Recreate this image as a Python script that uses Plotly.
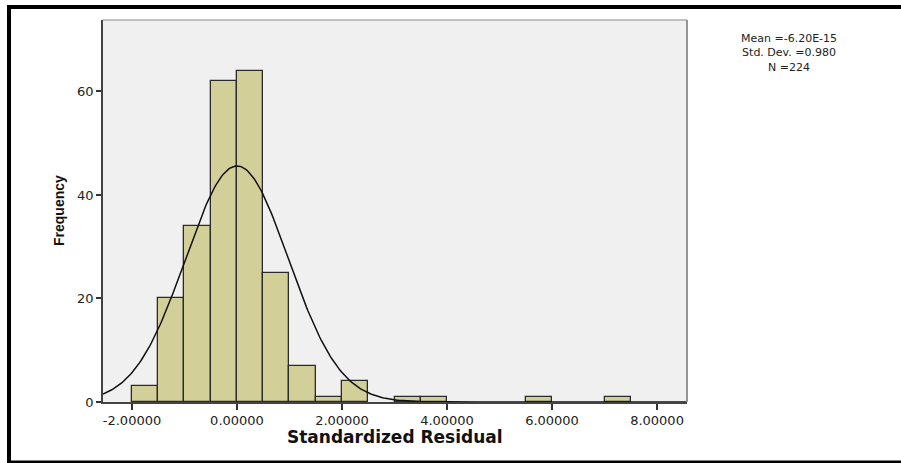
import numpy as np
import plotly.graph_objects as go

# ---- data ----
bin_left = [-2.0, -1.5, -1.0, -0.5, 0.0, 0.5, 1.0, 1.5, 2.0, 3.0, 3.5, 5.5, 7.0]
counts = [3, 20, 34, 62, 64, 25, 7, 1, 4, 1, 1, 1, 1]
bin_width = 0.5
x_tick_vals = [-2, 0, 2, 4, 6, 8]
x_tick_text = ["-2.00000", "0.00000", "2.00000", "4.00000", "6.00000", "8.00000"]
y_tick_vals = [0, 20, 40, 60]
stat_mean = -6.20e-15
stat_sd = 0.980
stat_n = 224
stats_lines = ["Mean =-6.20E-15", "Std. Dev. =0.980", "N =224"]

W, H = 901, 463
# plot area in page pixels
L, R, T, B = 103, 687, 20, 402
xr = [-2.552, 8.571]
yr = [0, 73.8]

centers = [b + bin_width / 2 for b in bin_left]

fig = go.Figure()
fig.add_trace(go.Bar(
    x=centers, y=counts, width=[bin_width] * len(counts),
    marker=dict(color="#D3CF98", line=dict(color="#2b2b2b", width=1.3)),
    hoverinfo="skip", showlegend=False,
))
xs = np.linspace(xr[0], xr[1], 400)
ys = stat_n * bin_width / (stat_sd * np.sqrt(2 * np.pi)) * np.exp(-0.5 * ((xs - stat_mean) / stat_sd) ** 2)
fig.add_trace(go.Scatter(x=xs, y=ys, mode="lines", line=dict(color="#111111", width=1.5),
                         hoverinfo="skip", showlegend=False))


def px_x(p):
    return (p - L) / (R - L)


def px_y(p):
    return (B - p) / (B - T)


tickfont = dict(family="DejaVu Sans, Liberation Sans, Arial", size=13, color="#222222")

fig.update_layout(
    width=W, height=H,
    margin=dict(l=L, r=W - R, t=T, b=H - B, pad=0),
    paper_bgcolor="white", plot_bgcolor="#F0F0F0",
    bargap=0,
    xaxis=dict(range=xr, tickvals=x_tick_vals, ticktext=x_tick_text, ticks="outside",
               ticklen=6, tickwidth=1.5, tickcolor="#333333", showgrid=False, zeroline=False,
               showline=True, linecolor="#444444", linewidth=1.5, tickfont=tickfont),
    yaxis=dict(range=yr, tickvals=y_tick_vals, ticks="outside", ticklen=5, tickwidth=1.5,
               tickcolor="#333333", showgrid=False, zeroline=False, showline=True,
               linecolor="#444444", linewidth=1.8, tickfont=tickfont),
    shapes=[
        dict(type="line", xref="paper", yref="paper", x0=0, x1=1, y0=1, y1=1,
             line=dict(color="#8a8a8a", width=1.2), layer="above"),
        dict(type="line", xref="paper", yref="paper", x0=1, x1=1, y0=0, y1=1,
             line=dict(color="#8a8a8a", width=1.8), layer="above"),
        # outer black border (cropped on the right)
        dict(type="line", xref="paper", yref="paper", x0=px_x(7), x1=px_x(901),
             y0=px_y(7), y1=px_y(7), line=dict(color="black", width=4)),
        dict(type="line", xref="paper", yref="paper", x0=px_x(9), x1=px_x(9),
             y0=px_y(5), y1=px_y(463), line=dict(color="black", width=4)),
        dict(type="line", xref="paper", yref="paper", x0=px_x(7), x1=px_x(901),
             y0=px_y(462), y1=px_y(462), line=dict(color="black", width=3)),
    ],
)

annotations = [
    dict(text="<b>Standardized Residual</b>", x=px_x(395), y=px_y(437), xref="paper", yref="paper",
         showarrow=False, xanchor="center", yanchor="middle",
         font=dict(family="DejaVu Sans, Liberation Sans", size=17, color="#111111")),
    dict(text="<b>Frequency</b>", x=px_x(59), y=px_y(211), xref="paper", yref="paper",
         showarrow=False, xanchor="center", yanchor="middle", textangle=-90,
         font=dict(family="Liberation Sans Narrow, Arial Narrow, Liberation Sans", size=14, color="#111111")),
    dict(text="<br>".join(stats_lines), x=px_x(789), y=px_y(53), xref="paper", yref="paper",
         showarrow=False, xanchor="center", yanchor="middle", align="center",
         font=dict(family="DejaVu Sans, Liberation Sans", size=11, color="#222222")),
]
fig.update_layout(annotations=annotations)

fig.write_html(
    "out.html",
    config={"displayModeBar": False},
    post_script="document.body.style.margin='0';document.body.style.overflow='hidden';",
)
